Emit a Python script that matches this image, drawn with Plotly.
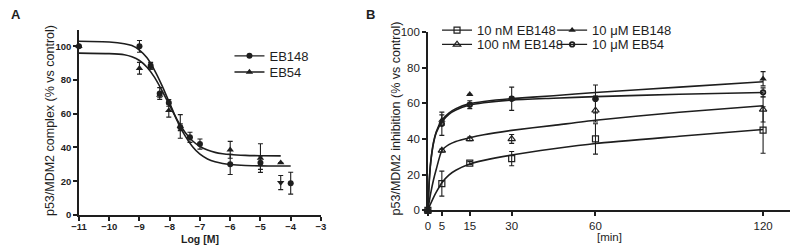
import plotly.graph_objects as go

W, H = 798, 250
OFF = 8  # default page body margin
FONT = "Liberation Sans, Arial, sans-serif"
INK = "#1e1e1e"

# ---------------- Panel A data ----------------
a_eb148_x = [-11, -9, -8.63, -8.33, -8.03, -7.65, -7.33, -7.0, -6.0, -5.0, -4.0]
a_eb148_y = [100, 100, 88.5, 72, 66.5, 52, 46, 42, 30, 31, 18.8]
a_eb148_err = [0, 3.5, 2, 3.5, 2, 2, 3, 3, 6, 4, 6.5]

a_eb54_x = [-11, -9, -8.63, -8.33, -8.03, -7.65, -6.0, -5.0, -4.33]
a_eb54_y = [100, 87, 88, 71, 62, 52.5, 38.6, 33.7, 31]
a_eb54_err = [0, 3.5, 1.5, 1.5, 4, 7, 5, 8.5, 0]

a_extra_x = [-4.33]
a_extra_y = [19.2]
a_extra_err = [4.2]

# fitted curves
a_fit148_x = [-11, -10, -9.5, -9.25, -9, -8.75, -8.5, -8.25, -8, -7.75, -7.5, -7.25,
              -7, -6.75, -6.5, -6.25, -6, -5.5, -5, -4.5, -4]
a_fit148_y = [103, 102.6, 101.6, 100.5, 97.8, 93.2, 85.8, 76.6, 66.2, 55.8, 47.2, 40.6,
              36.0, 33.2, 31.5, 30.5, 29.9, 29.3, 29.1, 29.0, 29.0]
a_fit54_x = [-11, -10, -9.5, -9.25, -9, -8.75, -8.5, -8.25, -8, -7.75, -7.5, -7.25,
             -7, -6.75, -6.5, -6.25, -6, -5.5, -5, -4.33]
a_fit54_y = [96, 95.7, 95.0, 93.8, 91.6, 87.6, 81.6, 73.6, 64.8, 56.2, 49.2, 44.0,
             40.6, 38.5, 37.1, 36.3, 35.8, 35.3, 35.1, 35.0]

a_xticks = [-11, -10, -9, -8, -7, -6, -5, -4, -3]
a_yticks = [0, 20, 40, 60, 80, 100]

# ---------------- Panel B data ----------------
b_t = [0, 5, 15, 30, 60, 120]
b_10nm_y = [0, 15, 26.5, 29, 40, 45]
b_10nm_err = [0, 7, 0.8, 4, 8.5, 13]
b_100nm_y = [0, 33.5, 40, 40, 56, 56.5]
b_100nm_err = [0, 0.8, 1, 2.5, 6.5, 7]
b_10um148_y = [0, 50.5, 65, 62.5, 63, 73.7]
b_10um148_err = [0, 3, 0, 1, 1, 4]
b_10um54_y = [0, 48.5, 59.2, 62.5, 62.4, 66.1]
b_10um54_err = [0, 6.5, 2.2, 6.5, 7.8, 2.5]

b_fit_t = [0, 0.5, 1, 2, 3, 5, 7.5, 10, 15, 20, 30, 45, 60, 90, 120]
b_fit10nm = [0, 2, 3.8, 7.2, 10.2, 15.5, 19.8, 22.5, 26, 28, 31, 34.5, 37.5, 41.5, 45.3]
b_fit100nm = [0, 5, 9.5, 17, 23, 33.5, 36.8, 38.6, 40.7, 42.4, 44.8, 47.6, 50.5, 55, 58.6]
b_fit10um148 = [0, 17, 27, 38, 44, 50.5, 54.5, 57, 59.8, 61, 62.6, 64.2, 66, 69, 72]
b_fit10um54 = [0, 16.5, 26.5, 37.5, 43.5, 49.5, 53.8, 56.2, 59, 60.3, 61.8, 62.8, 63.7, 65, 66]

b_xticks = [0, 5, 15, 30, 60, 120]
b_yticks = [0, 20, 40, 60, 80, 100]


def px(x):
    return (x - OFF) / W


def py(y):
    return 1 - (y - OFF) / H


fig = go.Figure()

errstyle = dict(type="data", thickness=1.1, width=2.5, color=INK)
line_style = dict(color=INK, width=1.6, shape="spline", smoothing=0.6)

# Panel A curves
fig.add_trace(go.Scatter(x=a_fit148_x, y=a_fit148_y, mode="lines", line=line_style,
                         showlegend=False, xaxis="x", yaxis="y", hoverinfo="skip"))
fig.add_trace(go.Scatter(x=a_fit54_x, y=a_fit54_y, mode="lines", line=line_style,
                         showlegend=False, xaxis="x", yaxis="y", hoverinfo="skip"))
# Panel A points
fig.add_trace(go.Scatter(x=a_eb148_x, y=a_eb148_y, mode="markers",
                         marker=dict(symbol="circle", size=6, color=INK),
                         error_y=dict(array=a_eb148_err, **errstyle),
                         showlegend=False, cliponaxis=False, xaxis="x", yaxis="y"))
fig.add_trace(go.Scatter(x=a_eb54_x, y=a_eb54_y, mode="markers",
                         marker=dict(symbol="triangle-up", size=6.5, color=INK),
                         error_y=dict(array=a_eb54_err, **errstyle),
                         showlegend=False, cliponaxis=False, xaxis="x", yaxis="y"))
fig.add_trace(go.Scatter(x=a_extra_x, y=a_extra_y, mode="markers",
                         marker=dict(symbol="triangle-down", size=6.5, color=INK),
                         error_y=dict(array=a_extra_err, **errstyle),
                         showlegend=False, cliponaxis=False, xaxis="x", yaxis="y"))

# Panel B curves
for yy in [b_fit10nm, b_fit100nm, b_fit10um148, b_fit10um54]:
    fig.add_trace(go.Scatter(x=b_fit_t, y=yy, mode="lines", line=line_style,
                             showlegend=False, xaxis="x2", yaxis="y2", hoverinfo="skip"))

b_series = [
    ("10 nM EB148", b_10nm_y, b_10nm_err, dict(symbol="square-open", size=6, color=INK, line=dict(width=1.2, color=INK)), "legend3"),
    ("100 nM EB148", b_100nm_y, b_100nm_err, dict(symbol="triangle-up-open", size=6.5, color=INK, line=dict(width=1.2, color=INK)), "legend4"),
    ("10 μM EB148", b_10um148_y, b_10um148_err, dict(symbol="triangle-up", size=6.5, color=INK), "legend5"),
    ("10 μM EB54", b_10um54_y, b_10um54_err, dict(symbol="circle-open", size=4.5, color=INK, line=dict(width=1.8, color=INK)), "legend6"),
]
for name, yy, ee, mk, lg in b_series:
    fig.add_trace(go.Scatter(x=b_t, y=yy, mode="markers", marker=mk,
                             error_y=dict(array=ee, **errstyle),
                             showlegend=False, cliponaxis=False, xaxis="x2", yaxis="y2"))

# legend entries
leg_line = dict(color=INK, width=1.4)
fig.add_trace(go.Scatter(x=[None], y=[None], mode="lines+markers", name="EB148",
                         marker=dict(symbol="circle", size=6, color=INK), line=leg_line,
                         legend="legend", xaxis="x", yaxis="y"))
fig.add_trace(go.Scatter(x=[None], y=[None], mode="lines+markers", name="EB54",
                         marker=dict(symbol="triangle-up", size=6.5, color=INK), line=leg_line,
                         legend="legend2", xaxis="x", yaxis="y"))
for name, yy, ee, mk, lg in b_series:
    fig.add_trace(go.Scatter(x=[None], y=[None], mode="lines+markers", name=name,
                             marker=mk, line=leg_line, legend=lg, xaxis="x2", yaxis="y2"))

legfont = dict(family=FONT, size=13, color=INK)


def leg(xp, yp):
    return dict(x=px(xp), y=py(yp), xanchor="left", yanchor="middle",
                bgcolor="rgba(0,0,0,0)", font=legfont, borderwidth=0,
                itemwidth=30)


axis_common = dict(showline=True, linecolor=INK, linewidth=1.5, ticks="outside",
                   ticklen=4, tickwidth=1.5, tickcolor=INK, showgrid=False,
                   zeroline=False, mirror=False)

fig.update_layout(
    width=W, height=H,
    margin=dict(l=0, r=0, t=0, b=0),
    paper_bgcolor="white", plot_bgcolor="white",
    font=dict(family=FONT, color=INK),
    xaxis=dict(domain=[px(72), px(318)], range=[-11, -3], tickvals=a_xticks,
               tickfont=dict(family=FONT, size=9.5, color=INK, weight="bold"),
               ticklabelstandoff=-2, anchor="y", **axis_common),
    yaxis=dict(domain=[py(219), py(25)], range=[0, 109.6], tickvals=a_yticks,
               tickfont=dict(family=FONT, size=9.5, color=INK, weight="bold"),
               anchor="x", **axis_common),
    xaxis2=dict(domain=[px(426.7), px(796.7)], range=[0, 130.3], tickvals=b_xticks,
                tickfont=dict(family=FONT, size=11.5, color=INK),
                anchor="y2", **axis_common),
    yaxis2=dict(domain=[py(214.3), py(26.7)], range=[0, 100], tickvals=b_yticks,
                tickfont=dict(family=FONT, size=11.5, color=INK),
                anchor="x2", **axis_common),
    legend=leg(225, 52),
    legend2=leg(225, 69),
    legend3=leg(436, 25),
    legend4=leg(436, 40),
    legend5=leg(553, 25),
    legend6=leg(553, 40),
)

ann = [
    dict(text="<b>A</b>", x=px(8), y=py(8), font=dict(size=13)),
    dict(text="<b>B</b>", x=px(368), y=py(8), font=dict(size=13)),
    dict(text="<b>Log [M]</b>", x=px(195), y=py(244), font=dict(size=10.5)),
    dict(text="[min]", x=px(611.7), y=py(242), font=dict(size=11.5)),
    dict(text="p53/MDM2 complex (% vs control)", x=px(42), y=py(120),
         textangle=-90, font=dict(size=12.5)),
    dict(text="p53/MDM2 inhibition (% vs control)", x=px(394), y=py(118),
         textangle=-90, font=dict(size=12.5)),
]
for a in ann:
    a.update(xref="paper", yref="paper", showarrow=False, xanchor="center", yanchor="middle")
    a["font"].update(family=FONT, color=INK)
fig.update_layout(annotations=ann)

fig.write_html("out.html")
